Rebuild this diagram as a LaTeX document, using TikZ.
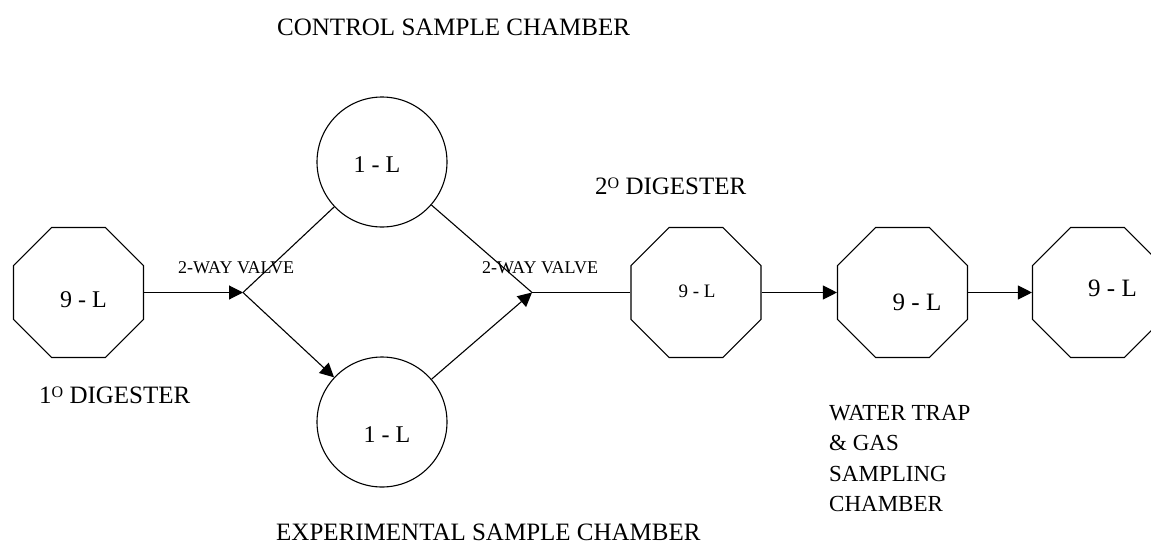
\documentclass[tikz,border=0pt]{standalone}
\usepackage{fontspec}
\setmainfont{Liberation Serif}
\usetikzlibrary{shapes.geometric,arrows.meta}
\newcommand{\supO}{\raisebox{6pt}{\fontsize{16}{16}\selectfont O}}
\begin{document}
\begin{tikzpicture}[x=1pt,y=-1pt,
  oct/.style={draw,regular polygon,regular polygon sides=8,minimum size=140.7pt,inner sep=0pt,line width=1.1pt},
  chamber/.style={draw,circle,minimum size=130pt,inner sep=0pt,line width=1.1pt},
  pipe/.style={line width=1.1pt},
  flow/.style={pipe,-{Triangle[length=14pt,width=14pt]}},
  lbl/.style={inner sep=0pt,anchor=base west,font=\fontsize{25}{30}\selectfont},
  valve/.style={inner sep=0pt,anchor=base west,font=\fontsize{18}{20}\selectfont},
  vol/.style={inner sep=0pt},
  ]
\useasboundingbox (0,0) rectangle (1151,544);
% vessels
\node[oct] (o1) at (78.5,292.5) {};
\node[oct] (o2) at (696,292.5) {};
\node[oct] (o3) at (902.5,292.5) {};
\node[oct] (o4) at (1097.5,292.5) {};
\node[chamber] (c1) at (382,162) {};
\node[chamber] (c2) at (382,422) {};
\coordinate (v1) at (243,292.5);
\coordinate (v2) at (532,292.5);
% volume texts
\node[vol,font=\fontsize{24}{24}\selectfont] (t1) at (83.5,300) {9 - L};
\node[vol,font=\fontsize{19}{19}\selectfont] (t2) at (697,291) {9 - L};
\node[vol,font=\fontsize{25}{25}\selectfont] (t3) at (917,302) {9 - L};
\node[vol,font=\fontsize{25}{25}\selectfont] (t4) at (1112.5,288) {9 - L};
\node[vol,font=\fontsize{24}{24}\selectfont] (tc1) at (377,165) {1 - L};
\node[vol,font=\fontsize{24}{24}\selectfont] (tc2) at (387,435) {1 - L};
% connectors
\draw[flow] (o1) -- (v1);
\draw[pipe] (v1) -- (c1);
\draw[flow] (v1) -- (c2);
\draw[pipe] (c1) -- (v2);
\draw[flow] (c2) -- (v2);
\draw[pipe] (v2) -- (o2);
\draw[flow] (o2) -- (o3);
\draw[flow] (o3) -- (o4);
% labels
\node[lbl] (ctl) at (277,35) {CONTROL SAMPLE CHAMBER};
\node[lbl] (exp) at (276,540) {EXPERIMENTAL SAMPLE CHAMBER};
\node[lbl] (d2) at (595,194) {2\supO{} DIGESTER};
\node[lbl] (d1) at (39,403) {1\supO{} DIGESTER};
\node[valve] (vl1) at (178,273) {2-WAY VALVE};
\node[valve] (vl2) at (482,273) {2-WAY VALVE};
\node[inner sep=0pt,anchor=north west,align=left,font=\fontsize{23}{30.5}\selectfont] (wt) at (829,405) {WATER TRAP\\\& GAS\\SAMPLING\\CHAMBER};
\end{tikzpicture}
\end{document}
